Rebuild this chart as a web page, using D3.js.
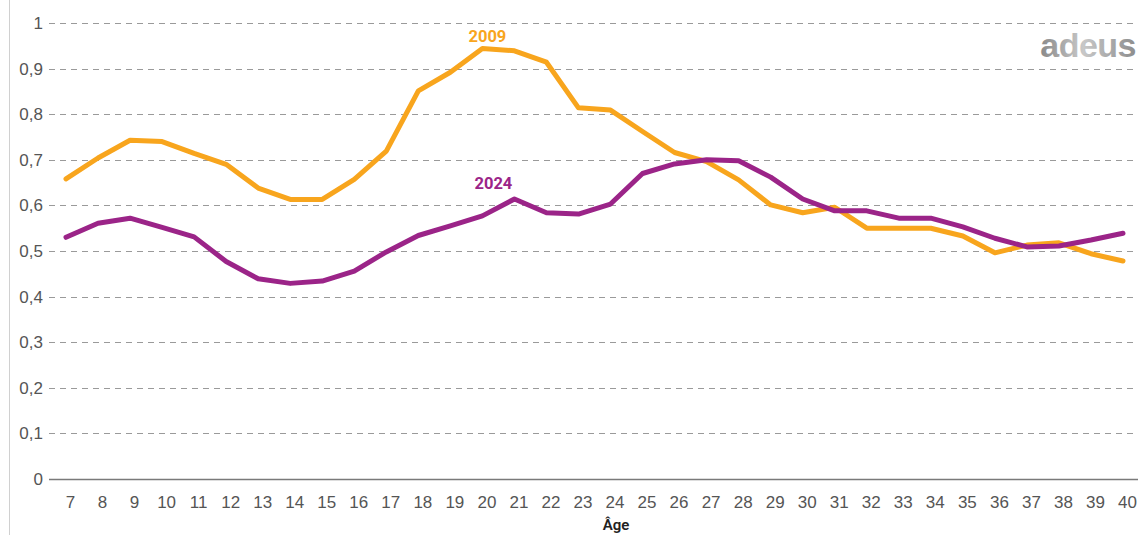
<!DOCTYPE html>
<html>
<head>
<meta charset="utf-8">
<script src="https://cdn.jsdelivr.net/npm/d3@7"></script>
<style>
  body { margin: 0; background: #fff; }
  svg { display: block; font-family: Roboto, "Open Sans", sans-serif; }
</style>
</head>
<body>
<svg id="chart"></svg>
<script>
// data
const ages = d3.range(7, 41);
const values2009 = [0.658, 0.704, 0.743, 0.740, 0.714, 0.690, 0.638, 0.613, 0.613, 0.657,
  0.719, 0.851, 0.892, 0.944, 0.939, 0.914, 0.814, 0.809, 0.762, 0.716,
  0.696, 0.656, 0.601, 0.584, 0.596, 0.550, 0.550, 0.550, 0.533, 0.496,
  0.513, 0.518, 0.494, 0.478];
const values2024 = [0.530, 0.561, 0.572, 0.552, 0.531, 0.477, 0.439, 0.429, 0.434, 0.456,
  0.498, 0.534, 0.555, 0.577, 0.614, 0.584, 0.581, 0.603, 0.670, 0.691,
  0.700, 0.698, 0.662, 0.614, 0.588, 0.588, 0.572, 0.572, 0.553, 0.528,
  0.509, 0.511, 0.524, 0.539];
const yTicks = [0, 0.1, 0.2, 0.3, 0.4, 0.5, 0.6, 0.7, 0.8, 0.9, 1];
const seriesNames = ["2009", "2024"];

// layout
const width = 1138;
const height = 535;
const colors = {"2009": "#F8A51D", "2024": "#9B2488"};

const svg = d3.select('#chart')
    .attr('width', width)
    .attr('height', height);

const x = d3.scaleLinear().domain([7, 40]).range([66, 1123]);
const y = d3.scaleLinear().domain([0, 1]).range([479, 23]);

// left frame line
svg.append('line')
    .attr('x1', 9.5).attr('x2', 9.5)
    .attr('y1', 0).attr('y2', height)
    .attr('stroke', '#d0d0d0')
    .attr('stroke-width', 1);

// gridlines
svg.append('g')
    .selectAll('line')
    .data(yTicks.filter(d => d > 0))
    .enter()
    .append('line')
    .attr('x1', 49).attr('x2', width)
    .attr('y1', d => Math.round(y(d)) + 0.5)
    .attr('y2', d => Math.round(y(d)) + 0.5)
    .attr('stroke', '#9a9a9a')
    .attr('stroke-width', 1)
    .attr('stroke-dasharray', '6,5');

// baseline
svg.append('line')
    .attr('x1', 49).attr('x2', width)
    .attr('y1', y(0) + 0.5).attr('y2', y(0) + 0.5)
    .attr('stroke', '#7a7a7a')
    .attr('stroke-width', 1.5);

// Y axis labels
const fmt = d => d3.format('.1~f')(d).replace('.', ',');
const yAxis = d3.axisLeft(y)
    .tickValues(yTicks)
    .tickFormat(fmt)
    .tickSize(0)
    .tickPadding(0);
svg.append('g')
    .attr('transform', 'translate(43,0)')
    .call(yAxis)
    .call(g => g.select('.domain').remove())
    .selectAll('text')
    .attr('fill', '#555')
    .style('font-size', '17px')
    .style('font-weight', '300');

// X axis labels
const xAxis = d3.axisBottom(x)
    .tickValues(ages)
    .tickFormat(d3.format('d'))
    .tickSize(0)
    .tickPadding(0);
svg.append('g')
    .attr('transform', 'translate(4,' + (y(0) + 17) + ')')
    .call(xAxis)
    .call(g => g.select('.domain').remove())
    .selectAll('text')
    .attr('fill', '#555')
    .style('font-size', '17px')
    .style('font-weight', '300');

// axis title
svg.append('text')
    .attr('x', 616)
    .attr('y', 530)
    .attr('text-anchor', 'middle')
    .attr('fill', '#222')
    .style('font-size', '15px')
    .style('font-weight', '600')
    .text('Âge');

// lines
const line = d3.line()
    .x((d, i) => x(ages[i]))
    .y(d => y(d));

const series = [
  {name: "2009", values: values2009},
  {name: "2024", values: values2024}
];

svg.selectAll('path.series')
    .data(series)
    .enter()
    .append('path')
    .attr('class', 'series')
    .attr('d', d => line(d.values))
    .attr('fill', 'none')
    .attr('stroke', d => colors[d.name])
    .attr('stroke-width', 5)
    .attr('stroke-linejoin', 'round')
    .attr('stroke-linecap', 'round');

// series labels, placed just above the line near age 20
const labelAt = {
  "2009": {age: 20, values: values2009, dx: 5, dy: -7},
  "2024": {age: 20, values: values2024, dx: 11, dy: -27}
};
seriesNames.forEach(function(name) {
  const l = labelAt[name];
  svg.append('text')
      .attr('x', x(l.age) + l.dx)
      .attr('y', y(l.values[l.age - 7]) + l.dy)
      .attr('text-anchor', 'middle')
      .attr('fill', colors[name])
      .style('font-size', '16.5px')
      .style('font-weight', '700')
      .text(name);
});

// logo
const defs = svg.append('defs');
const grad = defs.append('linearGradient')
    .attr('id', 'logoGrad')
    .attr('x1', '0').attr('x2', '1').attr('y1', '0').attr('y2', '0');
grad.append('stop').attr('offset', '0%').attr('stop-color', '#8a8a8a');
grad.append('stop').attr('offset', '45%').attr('stop-color', '#c8c8c8');
grad.append('stop').attr('offset', '100%').attr('stop-color', '#8d8d8d');
svg.append('text')
    .attr('x', 1136)
    .attr('y', 57)
    .attr('text-anchor', 'end')
    .attr('fill', 'url(#logoGrad)')
    .style('font-family', '"Liberation Sans", Arial, sans-serif')
    .style('font-size', '34px')
    .style('font-weight', '700')
    .style('letter-spacing', '-0.5px')
    .text('adeus');
</script>
</body>
</html>
